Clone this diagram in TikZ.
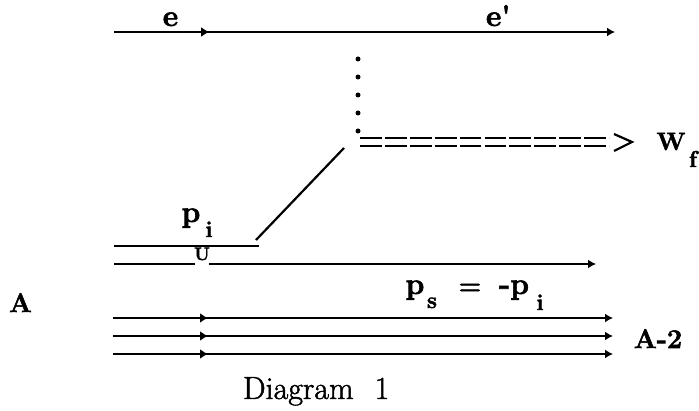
\documentclass[tikz,border=0pt]{standalone}
\usepackage{fontspec}
\newfontfamily\fatfont[BoldFeatures={FakeBold=2}]{Latin Modern Roman}
\newfontfamily\capfont[FakeBold=1.5]{Latin Modern Roman}
\usetikzlibrary{arrows.meta,decorations.markings}
\tikzset{
 every node/.style={inner sep=0pt,outer sep=0pt,anchor=base},
 big/.style={font=\fontsize{30}{30}\fatfont\bfseries},
 mid/.style={font=\fontsize{27}{27}\fatfont\bfseries},
 small/.style={font=\fontsize{23}{23}\fatfont\bfseries},
 ln/.style={line width=2pt},
 tip/.style={-{Latex[length=8pt,width=9pt]}},
 midtip/.style={postaction={decorate},decoration={markings,mark=at position #1 with {\arrow{Latex[length=8pt,width=10pt]}}}},
 dot/.style={circle,fill=black,minimum size=5pt,anchor=center},
 dbl/.style={line width=1.8pt,dash pattern=on 21.8pt off 3.1pt}
}
\begin{document}
\begin{tikzpicture}[x=1pt,y=-1pt]
\useasboundingbox (0,0) rectangle (699,411);
% top line
\coordinate (tl) at (114,32); \coordinate (tr) at (615,32);
\draw[ln,tip,midtip=0.19] (tl) -- (tr);
\node[big] (e) at (170.5,26) {e};
\node[big,anchor=base west] (ep) at (486,26) {e'};
% dots
\foreach \n/\y in {1/59,2/77,3/95,4/113,5/131} \node[dot] (d\n) at (358,\y) {};
% double line
\coordinate (a1) at (360,138); \coordinate (a2) at (609,138);
\coordinate (b1) at (360,146); \coordinate (b2) at (609,146);
\draw[dbl] (a1) -- (a2);
\draw[dbl] (b1) -- (b2);
\coordinate (g1) at (614,134); \coordinate (g2) at (632,142); \coordinate (g3) at (614,151);
\draw[line width=2.2pt] (g1) -- (g2) -- (g3);
\node[font=\fontsize{25}{25}\fatfont\bfseries] (w) at (671,150) {W};
\node[small] (wf) at (693,167) {f};
% diagonal
\coordinate (dg1) at (256,240); \coordinate (dg2) at (344,148);
\draw[line width=2.2pt] (dg1) -- (dg2);
% p_i
\node[big] (pi) at (191,222) {p};
\node[small] (pisub) at (209,237) {i};
\coordinate (p1) at (114,246); \coordinate (p2) at (259,246);
\draw[line width=2pt] (p1) -- (p2);
\node[font=\fontsize{18}{18}\fatfont\bfseries] (u) at (202,260) {U};
\coordinate (q1) at (114,264); \coordinate (q2) at (195,264);
\coordinate (q3) at (209,264); \coordinate (q4) at (596,264);
\draw[ln] (q1) -- (q2);
\draw[ln,tip] (q3) -- (q4);
% p_s = -p_i
\node[big] (ps) at (415,294) {p};
\node[small] (pss) at (432,308) {s};
\node[font=\fontsize{26}{26}\fatfont\bfseries] (eq) at (470,294) {=};
\node[big,anchor=base west] (mp) at (499,294) {-p};
\node[small] (mps) at (540,310) {i};
% A
\node[mid] (A) at (20.5,312) {A};
\foreach \n/\y in {1/318,2/336,3/354}{
 \coordinate (l\n) at (113,\y); \coordinate (r\n) at (613,\y);
 \draw[ln,tip,midtip=0.19] (l\n) -- (r\n);
}
\node[mid] (A2) at (658,348) {A-2};
\node[font=\fontsize{32}{32}\capfont,anchor=base west] (cap) at (243,399) {Diagram\hspace{21pt}1};
\end{tikzpicture}
\end{document}
